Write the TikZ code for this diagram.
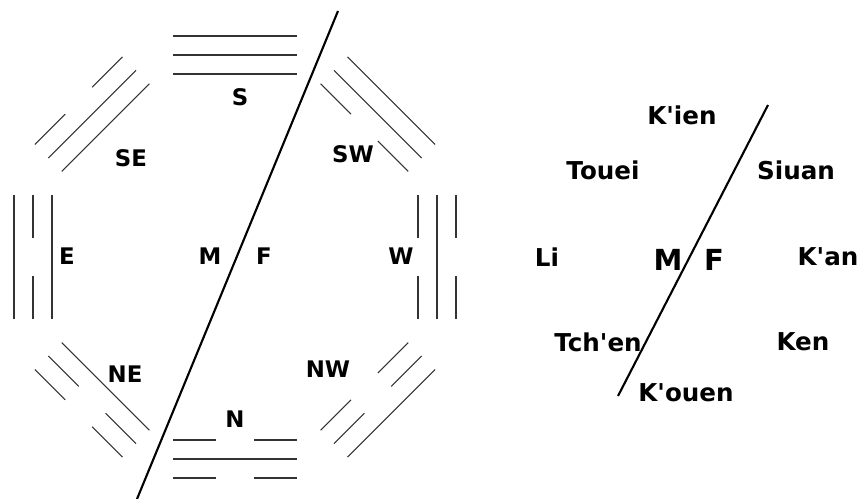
\documentclass[tikz,border=0pt]{standalone}
\usepackage{fontspec}
\setmainfont{DejaVu Sans}
\usetikzlibrary{positioning}

\tikzset{
    yaoline/.style={line width=0.6pt, black!80},
    divider/.style={line width=1.2pt},
    dir/.style={font=\bfseries\fontsize{13}{15}\selectfont},
    gua/.style={font=\bfseries\fontsize{14}{16}\selectfont},
    sex/.style={font=\bfseries\fontsize{16.5}{19}\selectfont},
}

% one line of a trigram: distance from centre, 1 = solid, 0 = broken
\newcommand{\yao}[2]{%
    \ifnum#2=1
        \draw[yaoline] (-62,#1) -- (62,#1);
    \else
        \draw[yaoline] (-62,#1) -- (-19,#1) (19,#1) -- (62,#1);
    \fi}
% trigram: direction, inner, middle, outer line
\newcommand{\trigram}[4]{%
    \begin{scope}[shift={(ctr)}, rotate=#1-90]
        \yao{183}{#2}
        \yao{202}{#3}
        \yao{221}{#4}
    \end{scope}}

\begin{document}
\begin{tikzpicture}[x=0.02cm, y=0.02cm]
    \useasboundingbox (0,0) rectangle (861,499);

    % Octagon of trigrams
    \coordinate (ctr) at (235,242);
    \trigram{90}{1}{1}{1}
    \trigram{135}{1}{1}{0}
    \trigram{180}{1}{0}{1}
    \trigram{225}{1}{0}{0}
    \trigram{270}{0}{1}{0}
    \trigram{315}{0}{0}{1}
    \trigram{0}{0}{1}{0}
    \trigram{45}{0}{1}{1}

    % Dividing line
    \coordinate (ltop) at (338,488);
    \coordinate (lbot) at (137,0);
    \draw[divider] (ltop) -- (lbot);

    % Directions
    \node[dir] (S) at (240,402) {S};
    \node[dir] (SE) at (131,341) {SE};
    \node[dir] (SW) at (353,345) {SW};
    \node[dir] (E) at (67,243) {E};
    \node[dir] (M) at (210,243) {M};
    \node[dir] (F) at (264,243) {F};
    \node[dir] (W) at (401,243) {W};
    \node[dir] (NE) at (125,125) {NE};
    \node[dir] (NW) at (328,130) {NW};
    \node[dir] (N) at (235,80) {N};

    % Names of the trigrams
    \coordinate (rtop) at (768,394);
    \coordinate (rbot) at (618,103);
    \draw[divider] (rtop) -- (rbot);

    \node[gua] (kien) at (682,384) {K\textquotesingle ien};
    \node[gua] (touei) at (603,329) {Touei};
    \node[gua] (siuan) at (796,329) {Siuan};
    \node[gua] (li) at (547,242) {Li};
    \node[gua] (kan) at (828,242) {K\textquotesingle an};
    \node[gua] (tchen) at (598,157) {Tch\textquotesingle en};
    \node[gua] (ken) at (803,157) {Ken};
    \node[gua] (kouen) at (686,106) {K\textquotesingle ouen};
    \node[sex] (rM) at (668,239) {M};
    \node[sex] (rF) at (714,239) {F};
\end{tikzpicture}
\end{document}
